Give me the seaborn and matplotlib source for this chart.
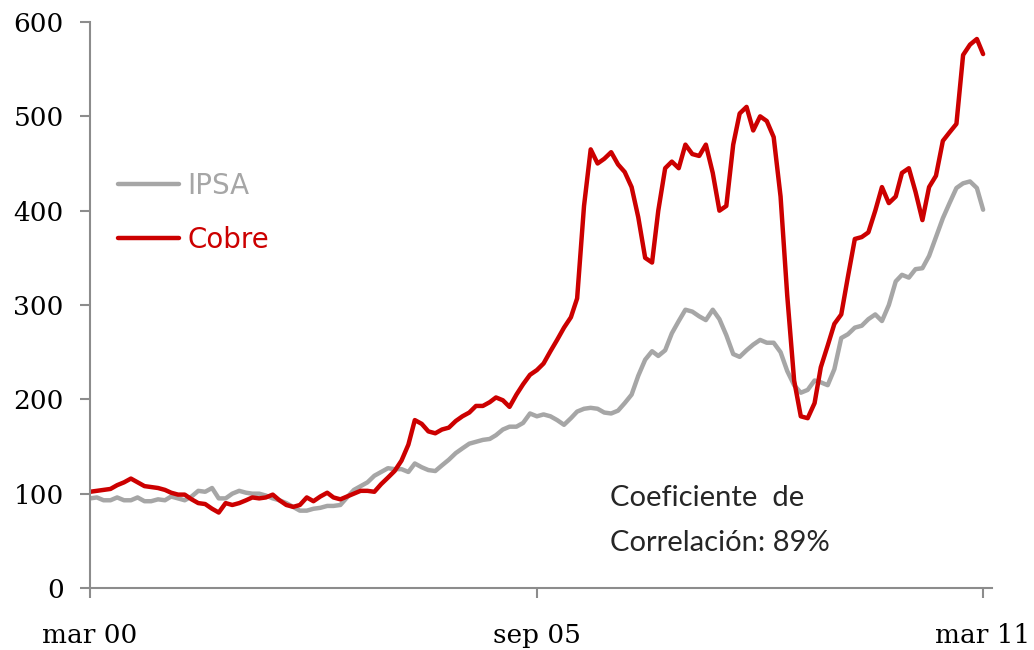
import numpy as np
import pandas as pd
import matplotlib
matplotlib.use("Agg")
import matplotlib.pyplot as plt
import seaborn as sns

# ==============================================
# DATOS (base 100 = mar 2000, mensual)
# ==============================================
FECHAS = pd.date_range("2000-03-01", "2011-03-01", freq="MS")

COBRE = [102, 103, 104, 105, 109, 112, 116, 112, 108, 107,
         106, 104, 101, 99, 99, 94, 90, 89, 84, 80,
         90, 88, 90, 93, 96, 95, 96, 99, 93, 88,
         86, 88, 96, 92, 97, 101, 96, 94, 97, 100,
         103, 103, 102, 110, 117, 124, 135, 152, 178, 174,
         166, 164, 168, 170, 177, 182, 186, 193, 193, 197,
         202, 199, 192, 205, 216, 226, 231, 238, 251, 263,
         276, 287, 307, 405, 465, 450, 455, 462, 449, 441,
         425, 393, 350, 345, 400, 445, 452, 445, 470, 460,
         458, 470, 440, 400, 405, 470, 503, 510, 485, 500,
         495, 478, 415, 310, 220, 182, 180, 196, 234, 257,
         280, 290, 330, 370, 372, 377, 400, 425, 408, 415,
         440, 445, 420, 390, 425, 437, 474, 483, 492, 565,
         576, 582, 566]

IPSA = [95, 96, 93, 93, 96, 93, 93, 96, 92, 92,
        94, 93, 97, 95, 93, 97, 103, 102, 106, 95,
        95, 100, 103, 101, 100, 100, 98, 95, 93, 90,
        86, 82, 82, 84, 85, 87, 87, 88, 96, 104,
        108, 112, 119, 123, 127, 126, 126, 123, 132, 128,
        125, 124, 130, 136, 143, 148, 153, 155, 157, 158,
        162, 168, 171, 171, 175, 185, 182, 184, 182, 178,
        173, 180, 187, 190, 191, 190, 186, 185, 188, 196,
        205, 225, 242, 251, 246, 252, 270, 283, 295, 293,
        288, 284, 295, 285, 268, 248, 245, 252, 258, 263,
        260, 260, 250, 230, 215, 207, 210, 220, 218, 215,
        232, 265, 269, 276, 278, 285, 290, 283, 300, 325,
        332, 329, 338, 339, 352, 372, 392, 408, 424, 429,
        431, 424, 401]

SERIES = ["IPSA", "Cobre"]
COLORES = {"IPSA": "#a6a6a6", "Cobre": "#cc0000"}
TICK_FECHAS = pd.to_datetime(["2000-03-01", "2005-09-01", "2011-03-01"])
TICK_LABELS = ["mar 00", "sep 05", "mar 11"]
Y_TICKS = [0, 100, 200, 300, 400, 500, 600]
NOTA = "Coeficiente  de\nCorrelación: 89%"

df = pd.DataFrame({"fecha": np.tile(FECHAS, 2),
                   "valor": IPSA + COBRE,
                   "serie": ["IPSA"] * len(IPSA) + ["Cobre"] * len(COBRE)})

# ==============================================
# GRAFICO
# ==============================================
sns.set_style("white")
plt.rcParams["font.family"] = ["DejaVu Sans"]

fig = plt.figure(figsize=(10.34, 6.5), dpi=100)
ax = fig.add_axes([90 / 1034, 1 - 588 / 650, 902 / 1034, 566 / 650])

sns.lineplot(data=df, x="fecha", y="valor", hue="serie",
             hue_order=SERIES, palette=COLORES, linewidth=3.2,
             ax=ax, solid_joinstyle="round", solid_capstyle="round")

ax.set_xlim(pd.Timestamp("2000-03-01"), pd.Timestamp("2011-04-10"))
ax.set_ylim(0, 600)
ax.set_yticks(Y_TICKS)
ax.set_xticks(TICK_FECHAS)
ax.set_xticklabels(TICK_LABELS)
ax.set_xlabel("")
ax.set_ylabel("")

for s in ["top", "right"]:
    ax.spines[s].set_visible(False)
for s in ["left", "bottom"]:
    ax.spines[s].set_color("#8c8c8c")
    ax.spines[s].set_linewidth(1.5)

ax.tick_params(axis="both", direction="out", length=7, width=1.5,
               color="#8c8c8c", labelcolor="black",
               bottom=True, left=True)
ax.tick_params(axis="y", pad=12)
ax.tick_params(axis="x", pad=18)
for lbl in ax.get_xticklabels() + ax.get_yticklabels():
    lbl.set_family("DejaVu Serif")
    lbl.set_fontsize(19)

leg = ax.legend(loc="upper left", bbox_to_anchor=(0.003, 0.78),
                frameon=False, fontsize=20, handlelength=2.2,
                handletextpad=0.3, labelspacing=0.95)
for txt, nombre in zip(leg.get_texts(), SERIES):
    txt.set_color(COLORES[nombre])
for h in leg.get_lines():
    h.set_linewidth(3.2)

ax.text(pd.Timestamp("2006-07-25"), 109, NOTA, fontsize=21,
        family="Lato", va="top", ha="left", linespacing=1.9)

plt.savefig("out.png", dpi=100)
plt.close()
